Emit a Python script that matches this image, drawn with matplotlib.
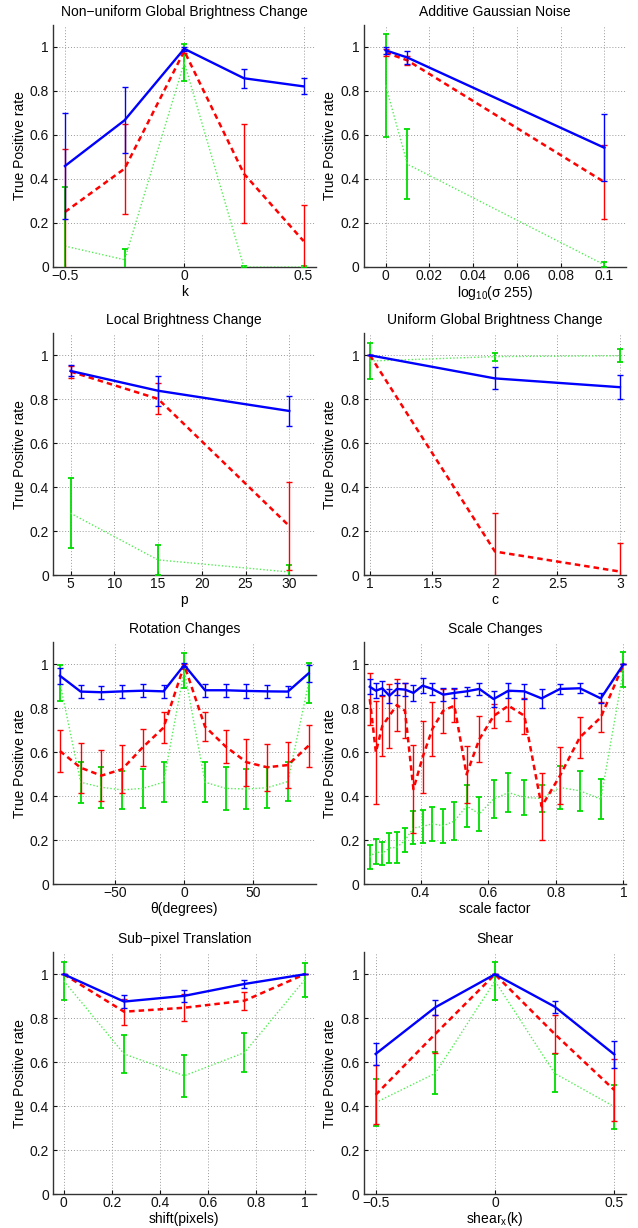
import matplotlib
matplotlib.use("Agg")
import matplotlib.pyplot as plt
from matplotlib.ticker import FormatStrFormatter

plt.rcParams['font.family'] = ['Liberation Sans', 'DejaVu Sans']
plt.rcParams['mathtext.fontset'] = 'custom'
plt.rcParams['mathtext.rm'] = 'Liberation Sans'
plt.rcParams['mathtext.it'] = 'Liberation Sans:italic'
plt.rcParams['mathtext.default'] = 'regular'

# ---------------- data ----------------
# 1. Non-uniform global brightness change
nu_x = [-0.5, -0.25, 0, 0.25, 0.5]
nu_blue = [0.459, 0.667, 0.992, 0.858, 0.821]
nu_blue_err = [0.24, 0.15, 0.01, 0.043, 0.036]
nu_red = [0.25, 0.447, 0.982, 0.424, 0.118]
nu_red_err = [0.285, 0.205, 0.01, 0.226, 0.165]
nu_green = [0.095, 0.033, 0.93, 0.0, 0.0]
nu_green_err = [0.27, 0.05, 0.083, 0.004, 0.005]

# 2. Additive Gaussian noise
gn_x = [0, 0.01, 0.1]
gn_blue = [0.985, 0.952, 0.542]
gn_blue_err = [0.015, 0.028, 0.152]
gn_red = [0.975, 0.939, 0.386]
gn_red_err = [0.015, 0.022, 0.17]
gn_green = [0.826, 0.467, 0.01]
gn_green_err = [0.235, 0.16, 0.012]

# 3. Local brightness change
lb_x = [5, 15, 30]
lb_blue = [0.929, 0.839, 0.747]
lb_blue_err = [0.025, 0.068, 0.07]
lb_red = [0.926, 0.802, 0.224]
lb_red_err = [0.027, 0.07, 0.2]
lb_green = [0.282, 0.07, 0.015]
lb_green_err = [0.16, 0.068, 0.03]

# 4. Uniform global brightness change
ug_x = [1, 2, 3]
ug_blue = [1.0, 0.895, 0.855]
ug_blue_err = [0.0, 0.05, 0.054]
ug_red = [1.0, 0.108, 0.017]
ug_red_err = [0.0, 0.175, 0.128]
ug_green = [0.974, 0.994, 0.998]
ug_green_err = [0.08, 0.018, 0.03]

# 5. Rotation changes
rot_x = [-90, -75, -60, -45, -30, -15, 0, 15, 30, 45, 60, 75, 90]
rot_blue = [0.948, 0.876, 0.873, 0.877, 0.88, 0.877, 0.997, 0.882, 0.882, 0.879, 0.877, 0.876, 0.959]
rot_blue_err = [0.037, 0.03, 0.03, 0.028, 0.03, 0.03, 0.01, 0.03, 0.03, 0.033, 0.03, 0.025, 0.038]
rot_red = [0.606, 0.53, 0.494, 0.523, 0.623, 0.712, 0.997, 0.717, 0.626, 0.555, 0.532, 0.542, 0.63]
rot_red_err = [0.094, 0.113, 0.116, 0.11, 0.083, 0.07, 0.005, 0.065, 0.074, 0.107, 0.108, 0.103, 0.095]
rot_green = [0.916, 0.464, 0.441, 0.429, 0.436, 0.464, 0.973, 0.464, 0.436, 0.433, 0.439, 0.467, 0.915]
rot_green_err = [0.081, 0.093, 0.094, 0.088, 0.089, 0.091, 0.08, 0.09, 0.096, 0.09, 0.093, 0.088, 0.09]

# 6. Scale changes
sc_x = [0.25, 0.268, 0.287, 0.308, 0.330, 0.354, 0.379, 0.406, 0.435, 0.467, 0.5,
        0.536, 0.574, 0.616, 0.660, 0.707, 0.758, 0.812, 0.871, 0.933, 1.0]
sc_blue = [0.898, 0.880, 0.891, 0.857, 0.888, 0.885, 0.870, 0.903, 0.888, 0.862, 0.870,
           0.877, 0.888, 0.842, 0.880, 0.877, 0.845, 0.888, 0.891, 0.845, 1.0]
sc_blue_err = [0.033, 0.034, 0.032, 0.032, 0.026, 0.028, 0.037, 0.033, 0.028, 0.03, 0.023,
               0.022, 0.026, 0.036, 0.033, 0.033, 0.042, 0.023, 0.023, 0.023, 0.0]
sc_red = [0.842, 0.6, 0.72, 0.766, 0.815, 0.789, 0.432, 0.577, 0.706, 0.789, 0.812,
          0.5, 0.66, 0.765, 0.812, 0.766, 0.354, 0.493, 0.668, 0.759, 1.0]
sc_red_err = [0.118, 0.234, 0.135, 0.146, 0.116, 0.124, 0.2, 0.164, 0.124, 0.1, 0.076,
              0.13, 0.106, 0.055, 0.068, 0.083, 0.153, 0.13, 0.094, 0.068, 0.0]
sc_green = [0.123, 0.149, 0.14, 0.165, 0.168, 0.2, 0.256, 0.263, 0.275, 0.266, 0.287,
            0.356, 0.32, 0.388, 0.417, 0.395, 0.39, 0.44, 0.425, 0.387, 0.975]
sc_green_err = [0.055, 0.057, 0.054, 0.066, 0.07, 0.055, 0.075, 0.076, 0.078, 0.076, 0.085,
                0.095, 0.077, 0.085, 0.09, 0.08, 0.063, 0.096, 0.091, 0.09, 0.08]

# 7. Sub-pixel translation
sp_x = [0, 0.25, 0.5, 0.75, 1]
sp_blue = [1.0, 0.876, 0.902, 0.956, 1.0]
sp_blue_err = [0.0, 0.028, 0.028, 0.017, 0.0]
sp_red = [1.0, 0.83, 0.848, 0.88, 1.0]
sp_red_err = [0.0, 0.059, 0.062, 0.041, 0.0]
sp_green = [0.97, 0.638, 0.539, 0.644, 0.975]
sp_green_err = [0.085, 0.087, 0.095, 0.088, 0.076]

# 8. Shear
sh_x = [-0.5, -0.25, 0, 0.25, 0.5]
sh_blue = [0.638, 0.85, 1.0, 0.853, 0.636]
sh_blue_err = [0.048, 0.035, 0.0, 0.027, 0.06]
sh_red = [0.452, 0.729, 1.0, 0.729, 0.474]
sh_red_err = [0.134, 0.087, 0.0, 0.085, 0.14]
sh_green = [0.417, 0.55, 0.97, 0.55, 0.398]
sh_green_err = [0.108, 0.095, 0.085, 0.087, 0.1]

titles = ["Non\u2212uniform Global Brightness Change", "Additive Gaussian Noise",
          "Local Brightness Change", "Uniform Global Brightness Change",
          "Rotation Changes", "Scale Changes",
          "Sub\u2212pixel Translation", "Shear"]
xlabels = ["k", "log$_{10}$(\u03c3 255)", "p", "c",
           "\u03b8(degrees)", "scale factor", "shift(pixels)", "shear$_x$(k)"]
xlabel_pads = [1.5, 0.5, 1.5, 1.5, 1.5, 1.5, 1.5, -0.5]
ylabel = "True Positive rate"
yticks = [0, 0.2, 0.4, 0.6, 0.8, 1]

panels = [
    (nu_x, nu_blue, nu_blue_err, nu_red, nu_red_err, nu_green, nu_green_err,
     (-0.55, 0.55), [-0.5, 0, 0.5]),
    (gn_x, gn_blue, gn_blue_err, gn_red, gn_red_err, gn_green, gn_green_err,
     (-0.01, 0.11), [0, 0.02, 0.04, 0.06, 0.08, 0.1]),
    (lb_x, lb_blue, lb_blue_err, lb_red, lb_red_err, lb_green, lb_green_err,
     (3, 33), [5, 10, 15, 20, 25, 30]),
    (ug_x, ug_blue, ug_blue_err, ug_red, ug_red_err, ug_green, ug_green_err,
     (0.95, 3.05), [1, 1.5, 2, 2.5, 3]),
    (rot_x, rot_blue, rot_blue_err, rot_red, rot_red_err, rot_green, rot_green_err,
     (-95, 95), [-50, 0, 50]),
    (sc_x, sc_blue, sc_blue_err, sc_red, sc_red_err, sc_green, sc_green_err,
     (0.232, 1.008), [0.4, 0.6, 0.8, 1]),
    (sp_x, sp_blue, sp_blue_err, sp_red, sp_red_err, sp_green, sp_green_err,
     (-0.045, 1.045), [0, 0.2, 0.4, 0.6, 0.8, 1]),
    (sh_x, sh_blue, sh_blue_err, sh_red, sh_red_err, sh_green, sh_green_err,
     (-0.55, 0.55), [-0.5, 0, 0.5]),
]

W, H = 638, 1228
fig = plt.figure(figsize=(W / 100, H / 100), dpi=100)

col_left = [53, 363.7]
ax_w = 262.5
row_bottom = [267, 575.3, 884.3, 1194.3]
ax_h = 242

BLUE = '#0000ff'
RED = '#ff0000'
GREEN_E = '#00dd00'
GREEN_L = '#55ee55'

for i, p in enumerate(panels):
    x, b, be, r, re, g, ge, xlim, xt = p
    row, col = divmod(i, 2)
    left = col_left[col] / W
    bottom = 1 - row_bottom[row] / H
    ax = fig.add_axes([left, bottom, ax_w / W, ax_h / H])

    ax.errorbar(x, g, yerr=ge, color=GREEN_L, ecolor=GREEN_E, ls=(0, (1, 1.5)), lw=1.0,
                elinewidth=1.3, capsize=2.5, capthick=1.3, zorder=3)
    ax.errorbar(x, r, yerr=re, color=RED, ls=(0, (2.2, 1.6)), lw=1.8,
                elinewidth=1.0, capsize=2.5, capthick=1.0, zorder=4)
    ax.errorbar(x, b, yerr=be, color=BLUE, ls='-', lw=1.7,
                elinewidth=1.0, capsize=2.5, capthick=1.0, zorder=5)

    ax.set_xlim(*xlim)
    ax.set_ylim(0, 1.1)
    ax.set_xticks(xt)
    ax.set_yticks(yticks)
    ax.yaxis.set_major_formatter(FormatStrFormatter('%g'))
    ax.set_xticklabels([('%g' % v).replace('-', '\u2212') for v in xt])
    ax.grid(True, color='#9a9a9a', ls=(0, (1, 2)), lw=0.7)
    ax.set_axisbelow(True)
    for s in ['top', 'right']:
        ax.spines[s].set_visible(False)
    for s in ['left', 'bottom']:
        ax.spines[s].set_color('#333333')
        ax.spines[s].set_linewidth(1.0)
    ax.tick_params(direction='in', length=3, width=0.8, labelsize=10, pad=3,
                   colors='#111111')
    ax.tick_params(axis='x', pad=1.5)
    ax.set_title(titles[i], fontsize=10, pad=6.5)
    ax.set_xlabel(xlabels[i], fontsize=10, labelpad=xlabel_pads[i])
    ax.set_ylabel(ylabel, fontsize=10, labelpad=2)

fig.savefig('out.png', dpi=100)
